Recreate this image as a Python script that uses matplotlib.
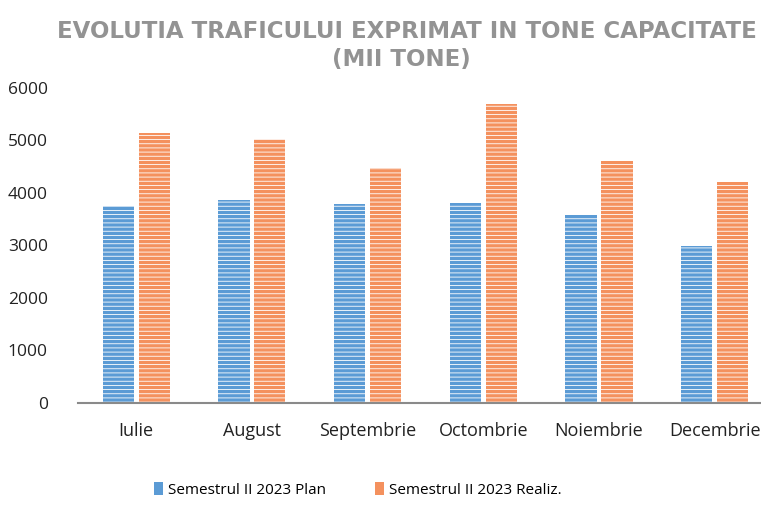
import numpy as np
import matplotlib.pyplot as plt

# data (mii tone)
luni = ['Iulie', 'August', 'Septembrie', 'Octombrie', 'Noiembrie', 'Decembrie']
plan = [3750, 3860, 3790, 3800, 3580, 2990]
realiz = [5140, 5030, 4480, 5700, 4610, 4210]
yticks = [0, 1000, 2000, 3000, 4000, 5000, 6000]

blue = '#5B9BD5'
orange = '#F4915E'

plt.rcParams['hatch.linewidth'] = 0.6

fig = plt.figure(figsize=(7.61, 5.05), dpi=100)
ax = fig.add_axes([0.103, 0.202, 0.9, 0.624])

x = np.arange(len(luni))
w = 0.27
# white edge -> white hatch stripes, zero width so no outline
ax.bar(x - w / 2 - 0.02, plan, w, color=blue, edgecolor='white', linewidth=0,
       hatch='----', label='Semestrul II 2023 Plan')
ax.bar(x + w / 2 + 0.02, realiz, w, color=orange, edgecolor='white', linewidth=0,
       hatch='----', label='Semestrul II 2023 Realiz.')

ax.set_xlim(-0.5, 5.42)
ax.set_ylim(0, 6000)
ax.set_yticks(yticks)
ax.set_xticks(x)
ax.set_xticklabels(luni, fontsize=13, family='Open Sans', color='#222222')
ax.tick_params(axis='y', length=0, pad=22, labelsize=12.5, labelcolor='#222222')
ax.tick_params(axis='x', length=0, pad=14)
for lab in ax.get_yticklabels():
    lab.set_family('Open Sans')

for s in ['top', 'right', 'left']:
    ax.spines[s].set_visible(False)
ax.spines['bottom'].set_color('#8a8a8a')
ax.spines['bottom'].set_linewidth(1.5)

fig.text(0.535, 0.937, 'EVOLUTIA TRAFICULUI EXPRIMAT IN TONE CAPACITATE',
         ha='center', va='center', fontsize=16.5, color='#939393', fontweight='bold')
fig.text(0.527, 0.882, '(MII TONE)', ha='center', va='center',
         fontsize=16.5, color='#939393', fontweight='bold')

leg = fig.legend(loc='center', bbox_to_anchor=(0.47, 0.03), ncol=2, frameon=False,
                 prop={'family': 'Open Sans', 'size': 11}, handlelength=0.6,
                 handleheight=0.9, columnspacing=3.2, handletextpad=0.3)
for h in leg.legend_handles:
    h.set_hatch(None)

fig.savefig('out.png', dpi=100)
